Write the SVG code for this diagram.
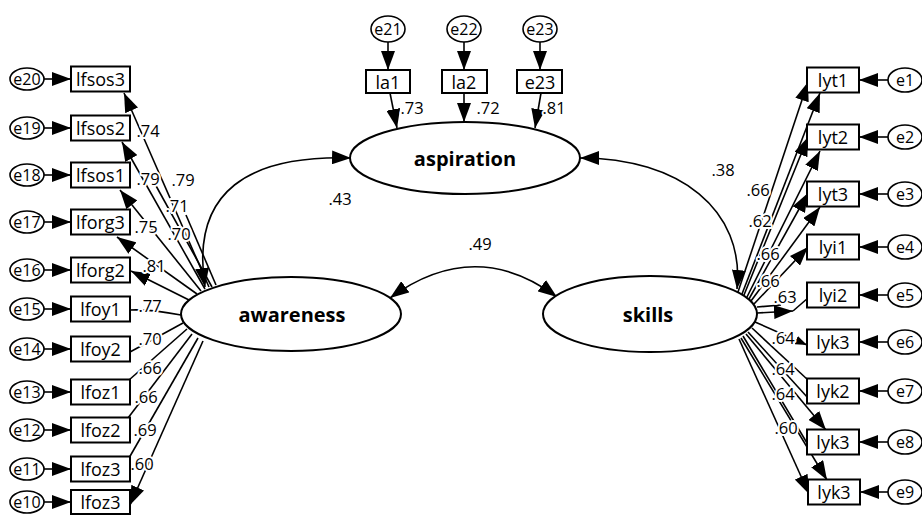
<svg xmlns="http://www.w3.org/2000/svg" width="922" height="519" viewBox="0 0 922 519">
<style>
.box{fill:#fff;stroke:#000;stroke-width:2}
.lv{fill:#fff;stroke:#000;stroke-width:2}
.err{fill:#fff;stroke:#000;stroke-width:1.6}
.c{fill:none;stroke:#000;stroke-width:1.6}
.t{font-family:"Open Sans","Noto Sans",sans-serif;font-size:18px;text-anchor:middle;dominant-baseline:central;fill:#000}
.te{font-size:16px}
.tb{font-size:20px;font-weight:bold}
.lbl{font-family:"Open Sans","Noto Sans",sans-serif;font-size:16.5px;text-anchor:middle;dominant-baseline:central;fill:#000;paint-order:stroke;stroke:#fff;stroke-width:4px;stroke-linejoin:round}
</style>
<defs>
<marker id="ah" markerUnits="userSpaceOnUse" markerWidth="20" markerHeight="14" refX="19" refY="7" orient="auto-start-reverse"><path d="M0,0 L19,7 L0,14 z" fill="#000"/></marker>
<marker id="ahs" markerUnits="userSpaceOnUse" markerWidth="12" markerHeight="9" refX="12" refY="4.5" orient="auto"><path d="M0,0 L12,4.5 L0,9 z" fill="#000"/></marker>
</defs>
<g id="connectors">
<path class="c" d="M351,158 C250,155 190,190 205,287" marker-start="url(#ah)" marker-end="url(#ah)"/>
<path class="c" d="M580,158 C680,158 745,210 737,289" marker-start="url(#ah)" marker-end="url(#ah)"/>
<path class="c" d="M390,298 Q475,236 557,297" marker-start="url(#ah)" marker-end="url(#ah)"/>
<line class="c" x1="388" y1="42" x2="388" y2="70" marker-end="url(#ah)"/>
<line class="c" x1="464" y1="42" x2="464" y2="70" marker-end="url(#ah)"/>
<line class="c" x1="540" y1="42" x2="540" y2="70" marker-end="url(#ah)"/>
<line class="c" x1="390" y1="93" x2="397" y2="128" marker-end="url(#ah)"/>
<line class="c" x1="464" y1="93" x2="464" y2="122" marker-end="url(#ah)"/>
<line class="c" x1="541" y1="93" x2="535" y2="128" marker-end="url(#ah)"/>
<line class="c" x1="44" y1="79" x2="71" y2="79" marker-end="url(#ah)"/>
<line class="c" x1="44" y1="128" x2="71" y2="128" marker-end="url(#ah)"/>
<line class="c" x1="44" y1="175" x2="71" y2="175" marker-end="url(#ah)"/>
<line class="c" x1="44" y1="222" x2="71" y2="222" marker-end="url(#ah)"/>
<line class="c" x1="44" y1="270" x2="71" y2="270" marker-end="url(#ah)"/>
<line class="c" x1="44" y1="309" x2="71" y2="309" marker-end="url(#ah)"/>
<line class="c" x1="44" y1="349" x2="71" y2="349" marker-end="url(#ah)"/>
<line class="c" x1="44" y1="392" x2="71" y2="392" marker-end="url(#ah)"/>
<line class="c" x1="44" y1="430" x2="71" y2="430" marker-end="url(#ah)"/>
<line class="c" x1="44" y1="469" x2="71" y2="469" marker-end="url(#ah)"/>
<line class="c" x1="44" y1="502" x2="71" y2="502" marker-end="url(#ah)"/>
<line class="c" x1="888" y1="80" x2="859" y2="80" marker-end="url(#ah)"/>
<line class="c" x1="888" y1="137" x2="859" y2="137" marker-end="url(#ah)"/>
<line class="c" x1="888" y1="194" x2="859" y2="194" marker-end="url(#ah)"/>
<line class="c" x1="888" y1="247" x2="859" y2="247" marker-end="url(#ah)"/>
<line class="c" x1="888" y1="295" x2="859" y2="295" marker-end="url(#ah)"/>
<line class="c" x1="888" y1="342" x2="859" y2="342" marker-end="url(#ah)"/>
<line class="c" x1="888" y1="391" x2="859" y2="391" marker-end="url(#ah)"/>
<line class="c" x1="888" y1="442" x2="859" y2="442" marker-end="url(#ah)"/>
<line class="c" x1="888" y1="492" x2="860" y2="492" marker-end="url(#ah)"/>
<line class="c" x1="209" y1="287" x2="124" y2="93" marker-end="url(#ah)"/>
<line class="c" x1="205" y1="289" x2="122" y2="142" marker-end="url(#ah)"/>
<line class="c" x1="201" y1="291" x2="120" y2="190" marker-end="url(#ah)"/>
<line class="c" x1="197" y1="294" x2="117" y2="237" marker-end="url(#ah)"/>
<line class="c" x1="189" y1="300" x2="131" y2="271" marker-end="url(#ah)"/>
<line class="c" x1="212" y1="287" x2="155" y2="184"/>
<line class="c" x1="216" y1="285" x2="186" y2="215"/>
<path class="c" d="M181,315 Q150,309 130,310"/>
<line class="c" x1="183" y1="323" x2="130" y2="352"/>
<line class="c" x1="187" y1="329" x2="129" y2="380"/>
<line class="c" x1="192" y1="334" x2="128" y2="418"/>
<line class="c" x1="198" y1="338" x2="129" y2="458"/>
<line class="c" x1="203" y1="341" x2="130" y2="505" marker-end="url(#ah)"/>
<line class="c" x1="738" y1="292" x2="808" y2="82" marker-end="url(#ah)"/>
<line class="c" x1="742" y1="294" x2="820" y2="93" marker-end="url(#ah)"/>
<line class="c" x1="744" y1="295" x2="808" y2="137" marker-end="url(#ah)"/>
<line class="c" x1="747" y1="297" x2="820" y2="151" marker-end="url(#ah)"/>
<line class="c" x1="749" y1="299" x2="808" y2="193" marker-end="url(#ah)"/>
<line class="c" x1="751" y1="301" x2="820" y2="207" marker-end="url(#ah)"/>
<line class="c" x1="754" y1="304" x2="808" y2="247" marker-end="url(#ah)"/>
<line class="c" x1="757" y1="307" x2="781" y2="305"/>
<line class="c" x1="757" y1="313" x2="793" y2="311" marker-end="url(#ah)"/>
<line class="c" x1="793" y1="311" x2="808" y2="298"/>
<line class="c" x1="755" y1="322" x2="807" y2="345" marker-end="url(#ahs)"/>
<line class="c" x1="752" y1="328" x2="808" y2="380"/>
<line class="c" x1="748" y1="332" x2="808" y2="398"/>
<line class="c" x1="746" y1="334" x2="826" y2="430" marker-end="url(#ah)"/>
<line class="c" x1="743" y1="336" x2="807" y2="443"/>
<line class="c" x1="741" y1="338" x2="827" y2="480" marker-end="url(#ah)"/>
<line class="c" x1="739" y1="339" x2="809" y2="494" marker-end="url(#ah)"/>
</g>
<g id="labels">
<text class="lbl" x="340" y="198">.43</text>
<text class="lbl" x="480" y="243">.49</text>
<text class="lbl" x="723" y="169">.38</text>
<text class="lbl" x="412" y="107">.73</text>
<text class="lbl" x="488" y="107">.72</text>
<text class="lbl" x="554" y="107">.81</text>
<text class="lbl" x="148" y="130">.74</text>
<text class="lbl" x="148" y="178">.79</text>
<text class="lbl" x="183" y="179">.79</text>
<text class="lbl" x="177" y="205">.71</text>
<text class="lbl" x="146" y="226">.75</text>
<text class="lbl" x="179" y="233">.70</text>
<text class="lbl" x="154" y="265">.81</text>
<text class="lbl" x="150" y="305">.77</text>
<text class="lbl" x="150" y="338">.70</text>
<text class="lbl" x="150" y="367">.66</text>
<text class="lbl" x="146" y="396">.66</text>
<text class="lbl" x="145" y="429">.69</text>
<text class="lbl" x="142" y="463">.60</text>
<text class="lbl" x="758" y="189">.66</text>
<text class="lbl" x="760" y="220">.62</text>
<text class="lbl" x="768" y="253">.66</text>
<text class="lbl" x="768" y="280">.66</text>
<text class="lbl" x="785" y="296">.63</text>
<text class="lbl" x="783" y="337">.64</text>
<text class="lbl" x="783" y="368">.64</text>
<text class="lbl" x="783" y="393">.64</text>
<text class="lbl" x="786" y="427">.60</text>
</g>
<g id="aspiration"><ellipse class="lv" cx="465" cy="158" rx="115" ry="36"/><text class="t tb" x="465" y="158">aspiration</text></g>
<g id="awareness"><ellipse class="lv" cx="291" cy="314" rx="110" ry="37"/><text class="t tb" x="292" y="314">awareness</text></g>
<g id="skills"><ellipse class="lv" cx="650" cy="314" rx="107" ry="38"/><text class="t tb" x="648" y="314">skills</text></g>
<g id="e21"><ellipse class="err" cx="388" cy="29" rx="17" ry="13"/><text class="t te" x="388" y="29">e21</text></g>
<g id="e22"><ellipse class="err" cx="464" cy="29" rx="17" ry="13"/><text class="t te" x="464" y="29">e22</text></g>
<g id="e23"><ellipse class="err" cx="540" cy="29" rx="17" ry="13"/><text class="t te" x="540" y="29">e23</text></g>
<g id="la1"><rect class="box" x="366" y="70" width="44" height="23"/><text class="t" x="388" y="81.5">la1</text></g>
<g id="la2"><rect class="box" x="442" y="70" width="45" height="23"/><text class="t" x="464" y="81.5">la2</text></g>
<g id="e23box"><rect class="box" x="517" y="70" width="45" height="23"/><text class="t" x="540" y="81.5">e23</text></g>
<g id="lfsos3"><rect class="box" x="71" y="66.5" width="59" height="25"/><text class="t" x="100.5" y="79">lfsos3</text></g>
<g id="lfsos2"><rect class="box" x="71" y="115.5" width="59" height="25"/><text class="t" x="100.5" y="128">lfsos2</text></g>
<g id="lfsos1"><rect class="box" x="71" y="162.5" width="59" height="25"/><text class="t" x="100.5" y="175">lfsos1</text></g>
<g id="lforg3"><rect class="box" x="71" y="209.5" width="59" height="25"/><text class="t" x="100.5" y="222">lforg3</text></g>
<g id="lforg2"><rect class="box" x="71" y="257.5" width="59" height="25"/><text class="t" x="100.5" y="270">lforg2</text></g>
<g id="lfoy1"><rect class="box" x="71" y="296.5" width="59" height="25"/><text class="t" x="100.5" y="309">lfoy1</text></g>
<g id="lfoy2"><rect class="box" x="71" y="336.5" width="59" height="25"/><text class="t" x="100.5" y="349">lfoy2</text></g>
<g id="lfoz1"><rect class="box" x="71" y="379.5" width="59" height="25"/><text class="t" x="100.5" y="392">lfoz1</text></g>
<g id="lfoz2"><rect class="box" x="71" y="417.5" width="59" height="25"/><text class="t" x="100.5" y="430">lfoz2</text></g>
<g id="lfoz3a"><rect class="box" x="71" y="456.5" width="59" height="25"/><text class="t" x="100.5" y="469">lfoz3</text></g>
<g id="lfoz3b"><rect class="box" x="71" y="490" width="59" height="24"/><text class="t" x="100.5" y="502">lfoz3</text></g>
<g id="e20"><ellipse class="err" cx="27" cy="79" rx="17" ry="11"/><text class="t te" x="27" y="79">e20</text></g>
<g id="e19"><ellipse class="err" cx="27" cy="128" rx="17" ry="11"/><text class="t te" x="27" y="128">e19</text></g>
<g id="e18"><ellipse class="err" cx="27" cy="175" rx="17" ry="11"/><text class="t te" x="27" y="175">e18</text></g>
<g id="e17"><ellipse class="err" cx="27" cy="222" rx="17" ry="11"/><text class="t te" x="27" y="222">e17</text></g>
<g id="e16"><ellipse class="err" cx="27" cy="270" rx="17" ry="11"/><text class="t te" x="27" y="270">e16</text></g>
<g id="e15"><ellipse class="err" cx="27" cy="309" rx="17" ry="11"/><text class="t te" x="27" y="309">e15</text></g>
<g id="e14"><ellipse class="err" cx="27" cy="349" rx="17" ry="11"/><text class="t te" x="27" y="349">e14</text></g>
<g id="e13"><ellipse class="err" cx="27" cy="392" rx="17" ry="11"/><text class="t te" x="27" y="392">e13</text></g>
<g id="e12"><ellipse class="err" cx="27" cy="430" rx="17" ry="11"/><text class="t te" x="27" y="430">e12</text></g>
<g id="e11"><ellipse class="err" cx="27" cy="469" rx="17" ry="11"/><text class="t te" x="27" y="469">e11</text></g>
<g id="e10"><ellipse class="err" cx="27" cy="502" rx="17" ry="11"/><text class="t te" x="27" y="502">e10</text></g>
<g id="lyt1"><rect class="box" x="807" y="67.5" width="52" height="25"/><text class="t" x="833" y="80">lyt1</text></g>
<g id="lyt2"><rect class="box" x="807" y="124.5" width="52" height="25"/><text class="t" x="833" y="137">lyt2</text></g>
<g id="lyt3"><rect class="box" x="807" y="181.5" width="52" height="25"/><text class="t" x="833" y="194">lyt3</text></g>
<g id="lyi1"><rect class="box" x="807" y="234.5" width="52" height="25"/><text class="t" x="833" y="247">lyi1</text></g>
<g id="lyi2"><rect class="box" x="807" y="282.5" width="52" height="25"/><text class="t" x="833" y="295">lyi2</text></g>
<g id="lyk3a"><rect class="box" x="807" y="329.5" width="52" height="25"/><text class="t" x="833" y="342">lyk3</text></g>
<g id="lyk2"><rect class="box" x="807" y="378.5" width="52" height="25"/><text class="t" x="833" y="391">lyk2</text></g>
<g id="lyk3b"><rect class="box" x="807" y="429.5" width="52" height="25"/><text class="t" x="833" y="442">lyk3</text></g>
<g id="lyk3c"><rect class="box" x="808" y="479.5" width="52" height="25"/><text class="t" x="834" y="492">lyk3</text></g>
<g id="e1"><ellipse class="err" cx="905" cy="80" rx="17" ry="12"/><text class="t te" x="905" y="80">e1</text></g>
<g id="e2"><ellipse class="err" cx="905" cy="137" rx="17" ry="12"/><text class="t te" x="905" y="137">e2</text></g>
<g id="e3"><ellipse class="err" cx="905" cy="194" rx="17" ry="12"/><text class="t te" x="905" y="194">e3</text></g>
<g id="e4"><ellipse class="err" cx="905" cy="247" rx="17" ry="12"/><text class="t te" x="905" y="247">e4</text></g>
<g id="e5"><ellipse class="err" cx="905" cy="295" rx="17" ry="12"/><text class="t te" x="905" y="295">e5</text></g>
<g id="e6"><ellipse class="err" cx="905" cy="342" rx="17" ry="12"/><text class="t te" x="905" y="342">e6</text></g>
<g id="e7"><ellipse class="err" cx="905" cy="391" rx="17" ry="12"/><text class="t te" x="905" y="391">e7</text></g>
<g id="e8"><ellipse class="err" cx="905" cy="442" rx="17" ry="12"/><text class="t te" x="905" y="442">e8</text></g>
<g id="e9"><ellipse class="err" cx="905" cy="492" rx="17" ry="12"/><text class="t te" x="905" y="492">e9</text></g>
</svg>
